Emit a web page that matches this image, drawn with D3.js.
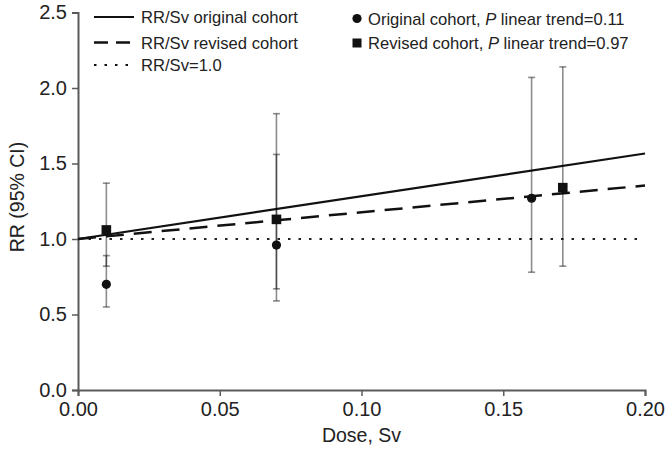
<!DOCTYPE html>
<html>
<head>
<meta charset="utf-8">
<script src="https://cdn.jsdelivr.net/npm/d3@7"></script>
<style>
  html, body { margin: 0; padding: 0; background: #fff; }
  svg { display: block; font-family: "Liberation Sans", Arial, Helvetica, sans-serif; }
</style>
</head>
<body>
<svg id="chart" width="667" height="452"></svg>
<script>
// ---- data ----
const originalDose = [0.01, 0.07, 0.16];
const originalRR   = [0.70, 0.96, 1.27];
const originalLo   = [0.55, 0.59, 0.78];
const originalHi   = [0.89, 1.56, 2.07];

const revisedDose = [0.01, 0.07, 0.171];
const revisedRR   = [1.06, 1.13, 1.34];
const revisedLo   = [0.82, 0.67, 0.82];
const revisedHi   = [1.37, 1.83, 2.14];

const fitDose      = [0.0, 0.2];
const fitOriginal  = [1.0, 1.566];
const fitRevised   = [1.0, 1.354];
const referenceRR  = [1.0, 1.0];

const xTicks = [0, 0.05, 0.10, 0.15, 0.20];
const yTicks = [0, 0.5, 1.0, 1.5, 2.0, 2.5];

const legendLeft = ["RR/Sv original cohort", "RR/Sv revised cohort", "RR/Sv=1.0"];
const legendRight = [
  ["Original cohort, ", "P", " linear trend=0.11"],
  ["Revised cohort, ", "P", " linear trend=0.97"]
];

// ---- layout ----
const svg = d3.select("#chart");
const x = d3.scaleLinear().domain([0, 0.2]).range([78, 645]);
const y = d3.scaleLinear().domain([0, 2.5]).range([390, 12.5]);
const axisColor = "#5a5a5a";

// axes
const gx = svg.append("g").attr("transform", `translate(0,${y(0)})`)
  .call(d3.axisBottom(x).tickValues(xTicks).tickFormat(d3.format(".2f")).tickSizeOuter(0).tickSize(6).tickPadding(6));
const gy = svg.append("g").attr("transform", `translate(${x(0)},0)`)
  .call(d3.axisLeft(y).tickValues(yTicks).tickFormat(d3.format(".1f")).tickSizeOuter(0).tickSize(6).tickPadding(5));
[gx, gy].forEach(g => {
  g.select(".domain").attr("stroke", axisColor).attr("stroke-width", 2);
  g.selectAll(".tick line").attr("stroke", axisColor).attr("stroke-width", 1.5);
  g.selectAll(".tick text").attr("fill", "#222").style("font-size", "20px")
    .style("font-family", "'Liberation Sans', Arial, sans-serif");
});

// axis titles
svg.append("text").attr("x", x(0.1)).attr("y", 442).attr("text-anchor", "middle")
  .style("font-size", "19.5px").attr("fill", "#222").text("Dose, Sv");
svg.append("text").attr("transform", `translate(24,197) rotate(-90)`).attr("text-anchor", "middle")
  .style("font-size", "19.5px").attr("fill", "#222").text("RR (95% CI)");

// lines
const line = d3.line().x(d => x(d[0])).y(d => y(d[1]));
svg.append("path").datum(d3.zip(fitDose, referenceRR)).attr("d", line)
  .attr("fill", "none").attr("stroke", "#222").attr("stroke-width", 2).attr("stroke-dasharray", "2.5,8");
svg.append("path").datum(d3.zip(fitDose, fitOriginal)).attr("d", line)
  .attr("fill", "none").attr("stroke", "#111").attr("stroke-width", 2.2);
svg.append("path").datum(d3.zip(fitDose, fitRevised)).attr("d", line)
  .attr("fill", "none").attr("stroke", "#111").attr("stroke-width", 2.5).attr("stroke-dasharray", "18,10");

// error bars
function errorBars(dose, lo, hi) {
  const g = svg.append("g").attr("stroke", "#000").attr("stroke-opacity", 0.45).attr("stroke-width", 1.6);
  dose.forEach((d, i) => {
    g.append("line").attr("x1", x(d)).attr("x2", x(d)).attr("y1", y(lo[i])).attr("y2", y(hi[i]));
    [lo[i], hi[i]].forEach(v => g.append("line")
      .attr("x1", x(d) - 3.5).attr("x2", x(d) + 3.5).attr("y1", y(v)).attr("y2", y(v)));
  });
}
errorBars(originalDose, originalLo, originalHi);
errorBars(revisedDose, revisedLo, revisedHi);

// markers
svg.append("g").selectAll("circle").data(d3.zip(originalDose, originalRR)).join("circle")
  .attr("cx", d => x(d[0])).attr("cy", d => y(d[1])).attr("r", 4.6).attr("fill", "#111");
svg.append("g").selectAll("rect").data(d3.zip(revisedDose, revisedRR)).join("rect")
  .attr("x", d => x(d[0]) - 4.8).attr("y", d => y(d[1]) - 4.8).attr("width", 9.6).attr("height", 9.6).attr("fill", "#111");

// left legend
const lgY = [17, 42.5, 65];
const dashes = [null, "14,8", "2.5,8"];
const widths = [2.2, 2.5, 2];
legendLeft.forEach((t, i) => {
  const l = svg.append("line").attr("x1", 94).attr("x2", 134).attr("y1", lgY[i]).attr("y2", lgY[i])
    .attr("stroke", "#111").attr("stroke-width", widths[i]);
  if (dashes[i]) l.attr("stroke-dasharray", dashes[i]);
  svg.append("text").attr("x", 141).attr("y", lgY[i] + 6).style("font-size", "16.6px").attr("fill", "#222").text(t);
});

// right legend
const rY = [18.5, 43];
svg.append("circle").attr("cx", 357).attr("cy", rY[0]).attr("r", 4.6).attr("fill", "#111");
svg.append("rect").attr("x", 352.5).attr("y", rY[1] - 4.5).attr("width", 9).attr("height", 9).attr("fill", "#111");
legendRight.forEach((parts, i) => {
  const tx = svg.append("text").attr("x", 368).attr("y", rY[i] + 6).style("font-size", "16.6px").attr("fill", "#222");
  tx.append("tspan").text(parts[0]);
  tx.append("tspan").style("font-style", "italic").text(parts[1]);
  tx.append("tspan").text(parts[2]);
});
</script>
</body>
</html>
